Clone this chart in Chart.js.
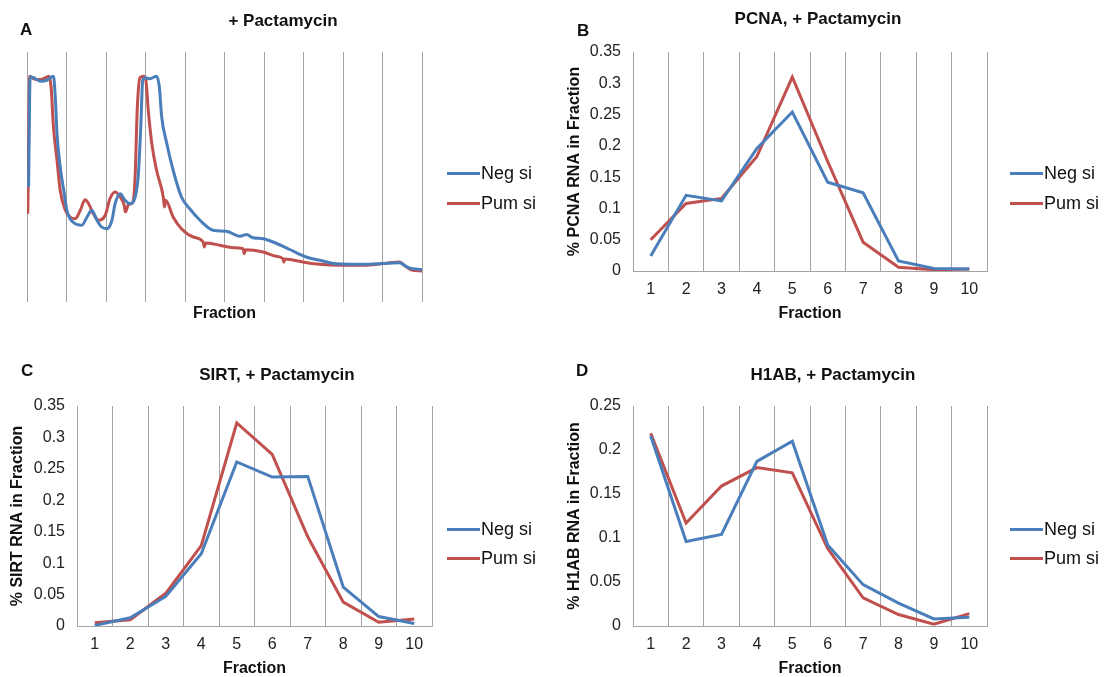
<!DOCTYPE html>
<html>
<head>
<meta charset="utf-8">
<script src="https://cdn.jsdelivr.net/npm/chart.js@4.4.1/dist/chart.umd.min.js"></script>
<style>
  body { margin: 0; background: #fff; font-family: "Liberation Sans", Arial, sans-serif; }
  #wrap { position: relative; width: 1112px; height: 677px; overflow: hidden; }
  canvas { position: absolute; }
  .title, .letter { position: absolute; font-weight: bold; color: #111; line-height: 20px; }
  .title { width: 300px; text-align: center; font-size: 17px; }
  .letter { font-size: 17px; }
  .leg { position: absolute; display: flex; align-items: center; height: 22px; font-size: 18px; color: #111; }
  .leg span { display: inline-block; width: 33px; height: 3px; margin-right: 1px; }
</style>
</head>
<body>
<div id="wrap">
  <canvas id="chartA" width="540" height="340" style="left:0;top:0"></canvas>
  <canvas id="chartB" width="572" height="340" style="left:540px;top:0"></canvas>
  <canvas id="chartC" width="540" height="360" style="left:0;top:330px"></canvas>
  <canvas id="chartD" width="572" height="360" style="left:540px;top:330px"></canvas>

  <div class="letter" style="left:20px;top:20px">A</div>
  <div class="letter" style="left:577px;top:21px">B</div>
  <div class="letter" style="left:21px;top:361px">C</div>
  <div class="letter" style="left:576px;top:361px">D</div>

  <div class="title" style="left:133px;top:11px">+ Pactamycin</div>
  <div class="title" style="left:668px;top:9px">PCNA, + Pactamycin</div>
  <div class="title" style="left:127px;top:365px">SIRT, + Pactamycin</div>
  <div class="title" style="left:683px;top:365px">H1AB, + Pactamycin</div>

  <div class="leg" style="left:447px;top:162px"><span style="background:#4a7ebb"></span>Neg si</div>
  <div class="leg" style="left:447px;top:192px"><span style="background:#c0504d"></span>Pum si</div>
  <div class="leg" style="left:1010px;top:162px"><span style="background:#4a7ebb"></span>Neg si</div>
  <div class="leg" style="left:1010px;top:192px"><span style="background:#c0504d"></span>Pum si</div>
  <div class="leg" style="left:447px;top:518px"><span style="background:#4a7ebb"></span>Neg si</div>
  <div class="leg" style="left:447px;top:547px"><span style="background:#c0504d"></span>Pum si</div>
  <div class="leg" style="left:1010px;top:518px"><span style="background:#4a7ebb"></span>Neg si</div>
  <div class="leg" style="left:1010px;top:547px"><span style="background:#c0504d"></span>Pum si</div>
</div>

<script>
// fractions 1..10 for panels B-D
const fractions = [1, 2, 3, 4, 5, 6, 7, 8, 9, 10];

const pcnaNeg = [0.024, 0.121, 0.112, 0.196, 0.254, 0.142, 0.125, 0.016, 0.004, 0.003];
const pcnaPum = [0.050, 0.108, 0.116, 0.183, 0.310, 0.175, 0.046, 0.006, 0.002, 0.003];

const sirtNeg = [0.001, 0.013, 0.047, 0.115, 0.261, 0.237, 0.238, 0.062, 0.015, 0.004];
const sirtPum = [0.005, 0.010, 0.052, 0.128, 0.323, 0.273, 0.142, 0.038, 0.006, 0.011];

const h1abNeg = [0.216, 0.096, 0.104, 0.187, 0.210, 0.092, 0.047, 0.026, 0.008, 0.010];
const h1abPum = [0.219, 0.117, 0.159, 0.180, 0.174, 0.088, 0.032, 0.013, 0.002, 0.014];

const yTicks35 = [0, 0.05, 0.1, 0.15, 0.2, 0.25, 0.3, 0.35];
const yTicks25 = [0, 0.05, 0.1, 0.15, 0.2, 0.25];

// panel A: absorbance profile (position in fractions, relative absorbance)
const profileNegX = [0.04, 0.08, 0.17, 0.34, 0.5, 0.59, 0.67, 0.72, 0.76, 0.84, 0.93, 1.01, 1.09, 1.22, 1.39,
  1.52, 1.64, 1.77, 1.89, 2.02, 2.15, 2.23, 2.36, 2.48, 2.61, 2.74, 2.82, 2.88, 2.93, 2.99, 3.11, 3.28, 3.35,
  3.41, 3.54, 3.7, 3.91, 4.12, 4.38, 4.71, 5.05, 5.39, 5.56, 5.72, 5.98, 6.23, 6.65, 7.07, 7.49, 7.83, 8.59,
  9.43, 9.55, 9.68, 10];
const profileNegY = [46, 90, 89.7, 88.3, 88.7, 89.7, 90.3, 80.7, 67.3, 54, 44.7, 36.7, 33.3, 31.3, 30.7,
  34, 36.7, 32.7, 30, 29.3, 32.7, 39.3, 43.3, 40.7, 39.3, 42, 51.3, 70, 88.7, 89.7, 89.3, 90.3, 86,
  74, 63.3, 52.7, 42, 37.3, 32.7, 28.7, 28.3, 26.3, 27, 25.7, 25.3, 24, 21, 18, 16.4, 15.3, 15.1,
  15.7, 14.7, 13.6, 12.9];
const profilePumX = [0.02, 0.07, 0.17, 0.29, 0.42, 0.55, 0.61, 0.67, 0.76, 0.84, 0.97, 1.09, 1.22, 1.35, 1.47,
  1.56, 1.68, 1.81, 1.98, 2.1, 2.23, 2.36, 2.46, 2.49, 2.57, 2.68, 2.74, 2.79, 2.86, 2.95, 3.01, 3.07, 3.16,
  3.28, 3.45, 3.48, 3.51, 3.7, 3.91, 4.21, 4.46, 4.49, 4.52, 4.88, 5.22, 5.47, 5.5, 5.53, 5.98, 6.31, 6.48,
  6.5, 6.53, 6.99, 7.41, 7.91, 8.59, 9.43, 9.55, 9.72, 10];
const profilePumY = [35.3, 90.3, 89.3, 88.9, 89.3, 90.3, 86, 70, 56.7, 44.7, 36.7, 34, 33.3, 36.7, 40.9,
  39.3, 35.3, 32.7, 34.7, 41.3, 44, 42, 38.7, 36, 39, 40, 51.3, 76.7, 89.7, 90.3, 88.7, 76.7, 63.3,
  52.7, 42, 38, 40.7, 34, 29.3, 26, 24, 22, 23.6, 22.7, 21.7, 21.3, 19.3, 20.9, 20, 18.3, 17.3,
  16, 17.2, 16, 15.1, 14.7, 14.7, 16, 14.7, 12.9, 12.4];

const blue = '#4a7ebb';
const red = '#c0504d';
const gridGray = '#a4a4a4';

Chart.defaults.font.family = '"Liberation Sans", Arial, sans-serif';
Chart.defaults.color = '#222';

function toPoints(xs, ys) {
  return xs.map((x, i) => ({ x: x, y: ys[i] }));
}

// tick positions: half steps carry the grid lines, whole steps carry labels
const xTickValues = [0.5].concat(fractions.flatMap(f => [f, f + 0.5]));

function fractionChart(id, neg, pum, yTicks, yTitle, pad, yW) {
  return new Chart(document.getElementById(id), {
    type: 'line',
    data: {
      datasets: [
        { label: 'Neg si', data: toPoints(fractions, neg), borderColor: blue, backgroundColor: blue },
        { label: 'Pum si', data: toPoints(fractions, pum), borderColor: red, backgroundColor: red }
      ]
    },
    options: {
      responsive: false,
      animation: false,
      devicePixelRatio: 1,
      layout: { padding: pad },
      plugins: { legend: { display: false }, tooltip: { enabled: false } },
      elements: { point: { radius: 0 }, line: { borderWidth: 3, tension: 0 } },
      scales: {
        x: {
          type: 'linear',
          min: 0.5,
          max: 10.5,
          afterBuildTicks: s => { s.ticks = xTickValues.map(v => ({ value: v })); },
          afterFit: s => { s.height = 52; },
          ticks: {
            autoSkip: false, maxRotation: 0, padding: 9, font: { size: 16 },
            callback: v => Number.isInteger(v) ? String(v) : ''
          },
          grid: {
            drawTicks: false,
            color: c => (c.tick && !Number.isInteger(c.tick.value)) ? gridGray : 'rgba(0,0,0,0)'
          },
          border: { color: gridGray },
          title: { display: true, text: 'Fraction', padding: 0, color: '#111', font: { size: 16, weight: 'bold' } }
        },
        y: {
          min: 0,
          max: yTicks[yTicks.length - 1],
          afterBuildTicks: s => { s.ticks = yTicks.map(v => ({ value: v })); },
          afterFit: s => { s.width = yW; },
          ticks: { padding: 12, font: { size: 16 }, callback: v => String(+v.toFixed(2)) },
          grid: { display: false, drawTicks: false },
          border: { color: gridGray },
          title: { display: true, text: yTitle, padding: 0, color: '#111', font: { size: 16, weight: 'bold' } }
        }
      }
    }
  });
}

// Panel A
new Chart(document.getElementById('chartA'), {
  type: 'line',
  data: {
    datasets: [
      { label: 'Neg si', data: toPoints(profileNegX, profileNegY), borderColor: blue },
      { label: 'Pum si', data: toPoints(profilePumX, profilePumY), borderColor: red }
    ]
  },
  options: {
    responsive: false,
    animation: false,
    devicePixelRatio: 1,
    layout: { padding: { left: 27, right: 118, top: 52, bottom: 17 } },
    plugins: { legend: { display: false }, tooltip: { enabled: false } },
    elements: { point: { radius: 0 }, line: { borderWidth: 3, cubicInterpolationMode: 'monotone' } },
    scales: {
      x: {
        type: 'linear',
        min: 0,
        max: 10,
        afterBuildTicks: s => { s.ticks = [0].concat(fractions).map(v => ({ value: v })); },
        afterFit: s => { s.height = 21; },
        ticks: { display: false },
        grid: { drawTicks: false, color: gridGray },
        border: { display: false },
        title: { display: true, text: 'Fraction', padding: 0, color: '#111', font: { size: 16, weight: 'bold' } }
      },
      y: { min: 0, max: 100, display: false }
    }
  }
});

fractionChart('chartB', pcnaNeg, pcnaPum, yTicks35, '% PCNA RNA in Fraction',
  { left: 25, right: 125, top: 52, bottom: 17 }, 68);
fractionChart('chartC', sirtNeg, sirtPum, yTicks35, '% SIRT RNA in Fraction',
  { left: 8, right: 108, top: 76, bottom: 12 }, 69);
fractionChart('chartD', h1abNeg, h1abPum, yTicks25, '% H1AB RNA in Fraction',
  { left: 25, right: 125, top: 76, bottom: 12 }, 68);
</script>
</body>
</html>
